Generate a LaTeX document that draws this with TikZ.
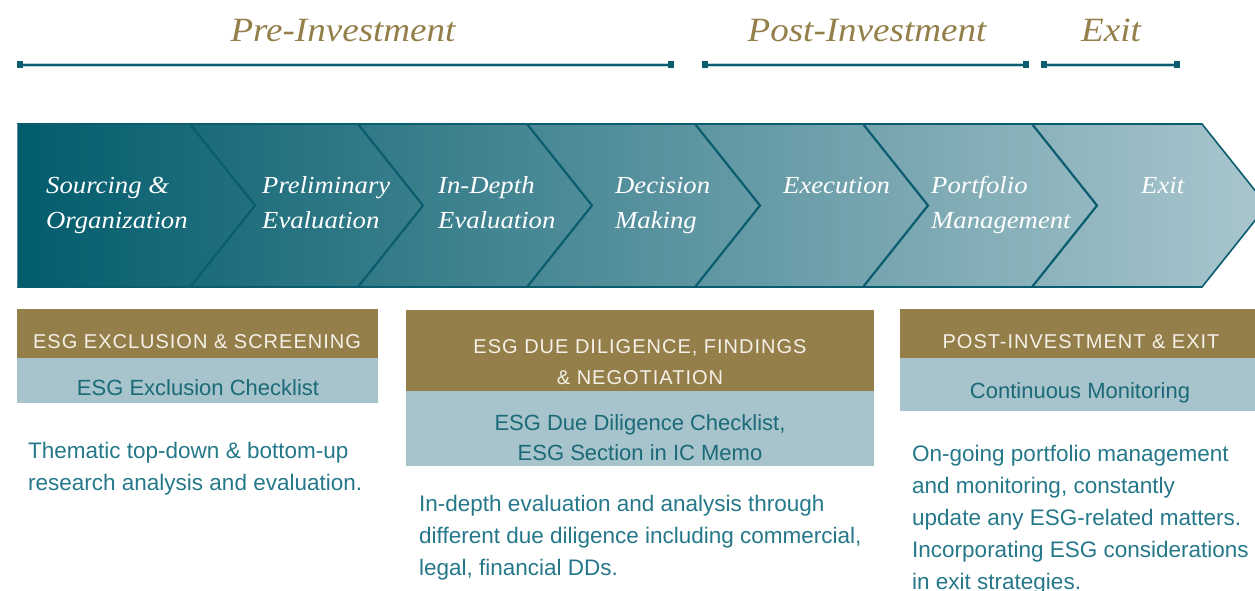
\documentclass[tikz,border=0pt]{standalone}
\usepackage{fontspec}
\setmainfont{Liberation Sans}
\newfontfamily\stagefont{Liberation Serif}[FakeStretch=1.09]
\newfontfamily\capsfont{Liberation Sans}[LetterSpace=5]
\definecolor{gold}{HTML}{947F4A}
\definecolor{paleblue}{HTML}{A7C4CC}
\definecolor{deepteal}{HTML}{0A5D6E}
\definecolor{haloblue}{HTML}{B9D3DA}
\definecolor{boxtext}{HTML}{1B6A78}
\definecolor{bodytext}{HTML}{25788A}
\definecolor{headtext}{HTML}{F5F1E8}
\definecolor{bandleft}{RGB}{2,92,108}
\definecolor{bandmid}{RGB}{78,135,149}
\definecolor{bandright}{RGB}{170,198,206}
% multi-line nodes are placed by the baseline of their last line
\tikzset{
  phasetitle/.style={anchor=base, text=gold, inner sep=0pt,
    font=\stagefont\itshape\fontsize{34}{40}\selectfont},
  spanline/.style={draw=deepteal, line width=1.6pt},
  spanhalo/.style={draw=haloblue, line width=3.4pt},
  spanend/.style={fill=deepteal, minimum width=6pt, minimum height=7pt, inner sep=0pt},
  chevline/.style={draw=deepteal, line width=2.2pt, line join=miter},
  stagetxt/.style={anchor=base west, text=white, inner sep=0pt, align=left,
    font=\stagefont\itshape\fontsize{24.5}{35}\selectfont},
  headtxt/.style={anchor=base, text=headtext, inner sep=0pt, align=center,
    font=\capsfont\fontsize{20}{31}\selectfont},
  tooltxt/.style={anchor=base, text=boxtext, inner sep=0pt, align=center,
    font=\fontsize{22}{30}\selectfont},
  bodytxt/.style={anchor=base west, text=bodytext, inner sep=0pt, align=left,
    font=\fontsize{22.5}{32}\selectfont},
}
\begin{document}
\begin{tikzpicture}[x=1pt,y=-1pt]
\useasboundingbox (0,0) rectangle (1255,591);

% phase titles and spans
\node[phasetitle] (tpre)  at (343,42) {Pre-Investment};
\node[phasetitle] (tpost) at (867,42) {Post-Investment};
\node[phasetitle] (texit) at (1111,42) {Exit};

\foreach \nm/\xa/\xb in {pre/20/671, post/705/1026, exit/1044/1177}{
  \node[spanend] (\nm a) at (\xa,65) {};
  \node[spanend] (\nm b) at (\xb,65) {};
  \draw[spanhalo] (\nm a.center) -- (\nm b.center);
  \draw[spanline] (\nm a.center) -- (\nm b.center);
  \node[spanend] at (\nm a.center) {};
  \node[spanend] at (\nm b.center) {};
}

% chevron band
\begin{scope}
  \clip (0,0) rectangle (1255,591);
  \shade[left color=bandleft, middle color=bandmid, right color=bandright]
    (17,124) -- (1202,124) -- (1267,205.5) -- (1202,287) -- (17,287) -- cycle;
  \foreach \b in {190,358,527,695,863,1032}
    \draw[chevline] (\b,124) -- (\b+65,205.5) -- (\b,287);
  \draw[draw=deepteal, line width=1.6pt, line join=miter]
    (17,124) -- (1202,124) -- (1267,205.5) -- (1202,287) -- (17,287);
  \draw[draw=deepteal!70, line width=0.8pt] (17,124) -- (17,287);
\end{scope}

\node[stagetxt] (s1) at (46,228)  {Sourcing \&\\Organization};
\node[stagetxt] (s2) at (262,228) {Preliminary\\Evaluation};
\node[stagetxt] (s3) at (438,228) {In-Depth\\Evaluation};
\node[stagetxt] (s4) at (615,228) {Decision\\Making};
\node[stagetxt] (s5) at (783,193) {Execution};
\node[stagetxt] (s6) at (931,228) {Portfolio\\Management};
\node[stagetxt] (s7) at (1141,193) {Exit};

% ESG boxes
\fill[gold] (17,309) rectangle (378,358);
\fill[paleblue] (17,358) rectangle (378,403);
\node[headtxt] (h1) at (197,348) {ESG EXCLUSION \& SCREENING};
\node[tooltxt] (k1) at (198,395) {ESG Exclusion Checklist};
\node[bodytxt] (b1) at (28,490) {Thematic top-down \& bottom-up\\research analysis and evaluation.};

\fill[gold] (406,310) rectangle (874,391);
\fill[paleblue] (406,391) rectangle (874,466);
\node[headtxt] (h2) at (640,384) {ESG DUE DILIGENCE, FINDINGS\\\& NEGOTIATION};
\node[tooltxt] (k2) at (640,460) {ESG Due Diligence Checklist,\\ESG Section in IC Memo};
\node[bodytxt] (b2) at (419,575) {In-depth evaluation and analysis through\\different due diligence including commercial,\\legal, financial DDs.};

\fill[gold] (900,309) rectangle (1255,358);
\fill[paleblue] (900,358) rectangle (1255,411);
\node[headtxt] (h3) at (1081,348) {POST-INVESTMENT \& EXIT};
\node[tooltxt] (k3) at (1080,398) {Continuous Monitoring};
\node[bodytxt] (b3) at (912,589) {On-going portfolio management\\and monitoring, constantly\\update any ESG-related matters.\\Incorporating ESG considerations\\in exit strategies.};
\end{tikzpicture}
\end{document}
